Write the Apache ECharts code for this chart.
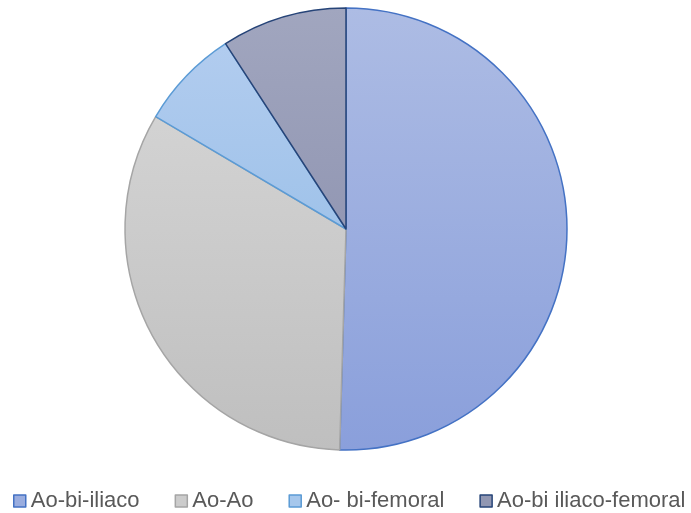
<!DOCTYPE html>
<html>
<head>
<meta charset="utf-8">
<script src="https://cdn.jsdelivr.net/npm/echarts@6/dist/echarts.min.js"></script>
<style>
  html, body { margin: 0; padding: 0; background: #fff; }
  #chart { width: 691px; height: 513px; }
</style>
</head>
<body>
<div id="chart"></div>
<script>
// Procedure categories and case counts
const categories = ['Ao-bi-iliaco', 'Ao-Ao', 'Ao- bi-femoral', 'Ao-bi iliaco-femoral'];
const counts = [55, 36, 8, 10];

// Fill gradient (top of pie, bottom of pie) and outline for each slice
const fillTop = ['#adbce4', '#d9d9d9', '#b5cef0', '#a1a6bf'];
const fillBottom = ['#8a9fdb', '#bfbfbf', '#8ab7e3', '#8489a8'];
const legendFill = ['#9aaddf', '#cccccc', '#a6c7ec', '#9197b2'];
const outline = ['#4472c4', '#a5a5a5', '#5b9bd5', '#264478'];

const CX = 346, CY = 229, R = 221;

const chart = echarts.init(document.getElementById('chart'));

const data = categories.map((name, i) => ({
  name: name,
  value: counts[i],
  itemStyle: {
    // gradient spans the whole pie vertically
    color: new echarts.graphic.LinearGradient(0, CY - R, 0, CY + R, [
      { offset: 0, color: fillTop[i] },
      { offset: 1, color: fillBottom[i] }
    ], true),
    borderColor: outline[i],
    borderWidth: 1.5
  }
}));

chart.setOption({
  animation: false,
  legend: {
    top: 490,
    left: 13,
    width: 678,
    padding: 0,
    itemWidth: 12,
    itemHeight: 12,
    itemGap: 35,
    icon: 'rect',
    textStyle: { color: '#595959', fontSize: 22, fontFamily: 'Liberation Sans' },
    data: categories.map((name, i) => ({
      name: name,
      itemStyle: { color: legendFill[i], borderColor: outline[i], borderWidth: 1.5 }
    }))
  },
  series: [{
    type: 'pie',
    center: [CX, CY],
    radius: R,
    startAngle: 90,
    clockwise: true,
    label: { show: false },
    labelLine: { show: false },
    emphasis: { disabled: true },
    data: data
  }]
});
</script>
</body>
</html>
